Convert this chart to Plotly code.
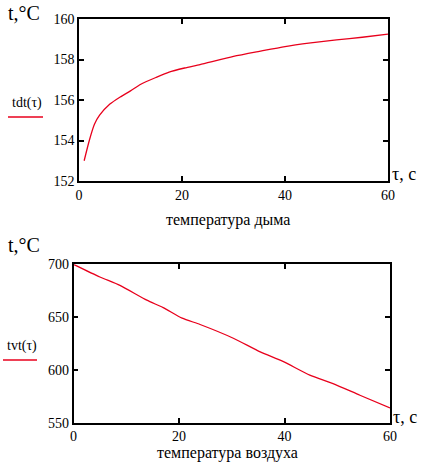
import plotly.graph_objects as go

# Smoke temperature tdt(tau)
tau_smoke = [1, 2, 3, 4, 6, 8, 10, 12, 15, 17.5, 20.5, 23.5, 30, 35, 40, 45, 50, 55, 60]
t_smoke = [153.0, 154.0, 154.8, 155.25, 155.8, 156.15, 156.45, 156.78, 157.12, 157.38, 157.58,
           157.75, 158.15, 158.4, 158.64, 158.82, 158.97, 159.1, 159.25]

# Air temperature tvt(tau)
tau_air = [0, 5, 8.8, 13.9, 17, 20.6, 24, 30.3, 35.4, 39.7, 44.8, 49.2, 54.3, 60]
t_air = [700, 688, 680, 666, 659, 649, 643, 630, 617, 608, 595, 587, 576, 564]

x_ticks = [0, 20, 40, 60]
y_ticks_top = [152, 154, 156, 158, 160]
y_ticks_bot = [550, 600, 650, 700]

W, H = 428, 466
SERIF = "'Times New Roman', 'Liberation Serif', 'DejaVu Serif', serif"
RED = "#e8001c"

fig = go.Figure()
fig.add_trace(go.Scatter(x=tau_smoke, y=t_smoke, mode="lines",
                         line=dict(color=RED, width=1.3, shape="spline", smoothing=0.6),
                         xaxis="x", yaxis="y"))
fig.add_trace(go.Scatter(x=tau_air, y=t_air, mode="lines",
                         line=dict(color=RED, width=1.3, shape="spline", smoothing=0.6),
                         xaxis="x2", yaxis="y2"))

axis_common = dict(showline=True, linecolor="black", linewidth=1.5, mirror="ticks",
                   ticks="inside", ticklen=5, tickwidth=1.5, tickcolor="black",
                   showgrid=False, zeroline=False, automargin=False,
                   tickfont=dict(family=SERIF, size=14, color="black"))

fig.update_layout(
    width=W, height=H, margin=dict(l=0, r=0, t=0, b=0),
    paper_bgcolor="white", plot_bgcolor="white", showlegend=False,
    font=dict(family=SERIF, color="black"),
    xaxis=dict(domain=[79 / W, 388 / W], range=[0, 60], tickvals=x_ticks,
               anchor="y", **axis_common),
    yaxis=dict(domain=[1 - 181 / H, 1 - 19 / H], range=[152, 160], tickvals=y_ticks_top,
               anchor="x", **axis_common),
    xaxis2=dict(domain=[73.5 / W, 390 / W], range=[0, 60], tickvals=x_ticks,
                anchor="y2", **axis_common),
    yaxis2=dict(domain=[1 - 422.7 / H, 1 - 264.3 / H], range=[550, 700], tickvals=y_ticks_bot,
                anchor="x2", **axis_common),
)

def ann(text, x, y, size, xanchor="left"):
    fig.add_annotation(text=text, x=x / W, y=1 - y / H, xref="paper", yref="paper",
                       showarrow=False, xanchor=xanchor, yanchor="middle",
                       font=dict(family=SERIF, size=size, color="black"))

# top chart texts
ann("t,°C", 6, 13, 20)
ann("tdt(τ)", 10, 103, 14)
ann("τ, c", 390, 174, 18)
ann("температура дыма", 228, 220, 16, "center")
# bottom chart texts
ann("t,°C", 6, 245, 20)
ann("tvt(τ)", 5, 346, 14)
ann("τ, c", 391, 417, 18)
ann("температура воздуха", 228, 453, 16, "center")

# legend line samples
fig.add_shape(type="line", xref="paper", yref="paper", x0=8 / W, x1=43 / W,
              y0=1 - 117 / H, y1=1 - 117 / H, line=dict(color=RED, width=1.3))
fig.add_shape(type="line", xref="paper", yref="paper", x0=3 / W, x1=37 / W,
              y0=1 - 360 / H, y1=1 - 360 / H, line=dict(color=RED, width=1.3))

fig.write_html("out.html", config={"displayModeBar": False},
               post_script="document.body.style.margin='0';document.body.style.overflow='hidden';")
